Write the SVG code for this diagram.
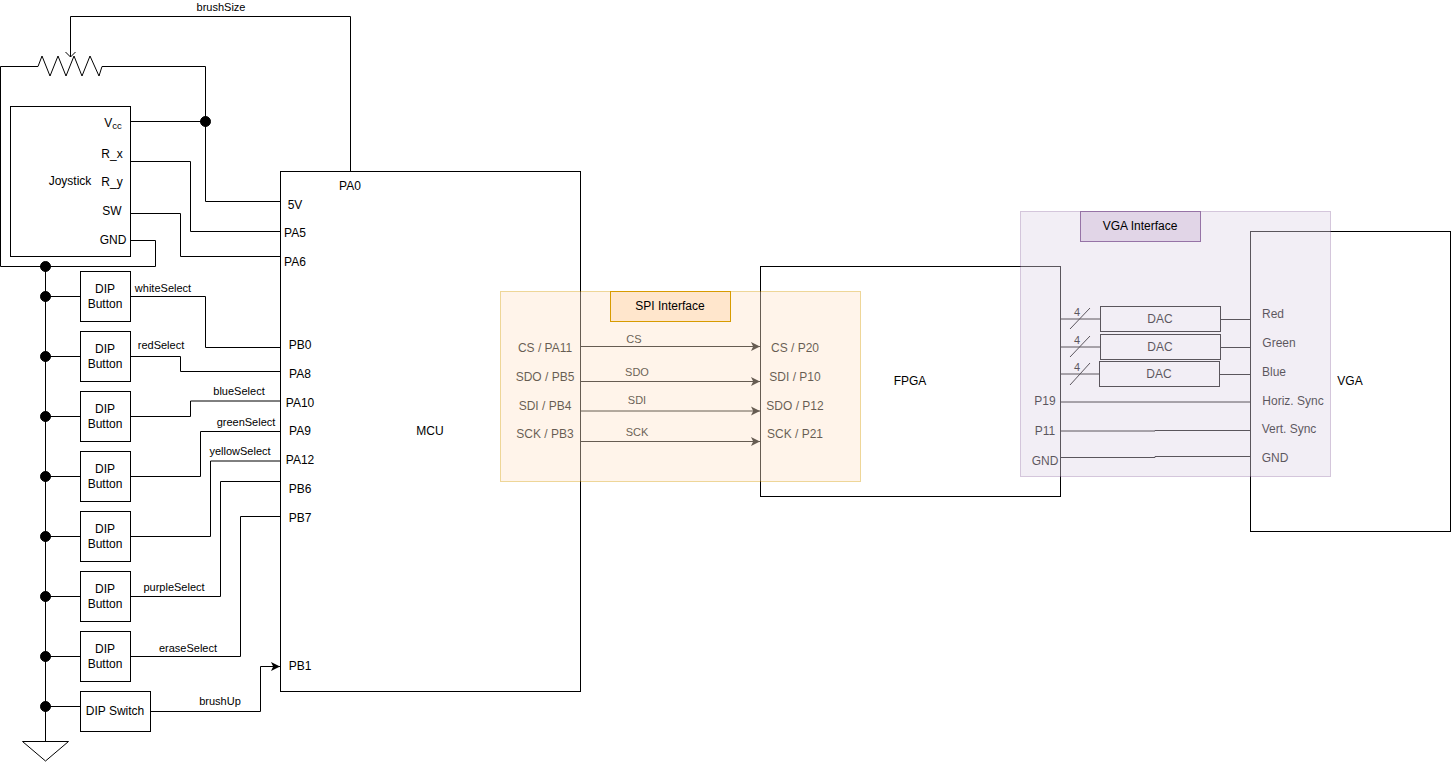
<svg xmlns="http://www.w3.org/2000/svg" width="1451" height="762" viewBox="0 0 1451 762">
<style>
text{font-family:"Liberation Sans",Arial,sans-serif;font-size:12px;fill:#000;text-anchor:middle}
.s{font-size:11px}
.n{fill:#fff;stroke:#000;stroke-width:1}
.w{fill:none;stroke:#000;stroke-width:1}
.d{fill:#000;stroke:#000}
</style>
<defs>
<marker id="arr" viewBox="0 0 10 10" refX="9" refY="5" markerWidth="10" markerHeight="10" orient="auto" markerUnits="userSpaceOnUse"><path d="M0 0.5L9 5L0 9.5L2.2 5Z" fill="#000"/></marker>
<marker id="open" viewBox="0 0 12 12" refX="10" refY="6" markerWidth="12" markerHeight="12" orient="auto" markerUnits="userSpaceOnUse"><path d="M5 1L10 6L5 11" fill="none" stroke="#000"/></marker>
</defs>
<rect width="1451" height="762" fill="#fff"/>
<g id="mcu"><rect class="n" x="280.5" y="171.5" width="300" height="520"/>
<text x="430" y="435">MCU</text><text x="350" y="190">PA0</text><text x="295" y="209">5V</text><text x="295" y="237">PA5</text><text x="295" y="266">PA6</text><text x="300" y="349">PB0</text><text x="300" y="378">PA8</text><text x="300" y="407">PA10</text><text x="300" y="435">PA9</text><text x="300" y="464">PA12</text><text x="300" y="493">PB6</text><text x="300" y="522">PB7</text><text x="300" y="670">PB1</text>
<text x="545" y="352">CS / PA11</text><text x="545" y="381">SDO / PB5</text><text x="545" y="410">SDI / PB4</text><text x="545" y="438">SCK / PB3</text></g>
<g id="fpga"><rect class="n" x="760.5" y="266.5" width="300" height="230"/>
<text x="910" y="385">FPGA</text><text x="795" y="352">CS / P20</text><text x="795" y="381">SDI / P10</text><text x="795" y="410">SDO / P12</text><text x="795" y="438">SCK / P21</text>
<text x="1045" y="405">P19</text><text x="1045" y="435">P11</text><text x="1045" y="465">GND</text></g>
<g id="vga"><rect class="n" x="1250.5" y="231.5" width="200" height="300"/>
<text x="1350" y="385">VGA</text><text x="1273" y="318">Red</text><text x="1279" y="347">Green</text><text x="1274" y="376">Blue</text><text x="1293" y="405">Horiz. Sync</text><text x="1289" y="433">Vert. Sync</text><text x="1275" y="462">GND</text></g>
<g id="joystick"><rect class="n" x="10.5" y="106.5" width="120" height="150"/>
<text x="70" y="185">Joystick</text><text x="113" y="127">V<tspan font-size="9.5" dy="2">cc</tspan></text><text x="112" y="158">R_x</text><text x="112" y="186">R_y</text><text x="112" y="215">SW</text><text x="113" y="244">GND</text></g>
<g id="btn1"><rect class="n" x="80.5" y="271.5" width="50" height="50"/><text x="105" y="293">DIP</text><text x="105" y="308">Button</text></g>
<g id="btn2"><rect class="n" x="80.5" y="331.5" width="50" height="50"/><text x="105" y="353">DIP</text><text x="105" y="368">Button</text></g>
<g id="btn3"><rect class="n" x="80.5" y="391.5" width="50" height="50"/><text x="105" y="413">DIP</text><text x="105" y="428">Button</text></g>
<g id="btn4"><rect class="n" x="80.5" y="451.5" width="50" height="50"/><text x="105" y="473">DIP</text><text x="105" y="488">Button</text></g>
<g id="btn5"><rect class="n" x="80.5" y="511.5" width="50" height="50"/><text x="105" y="533">DIP</text><text x="105" y="548">Button</text></g>
<g id="btn6"><rect class="n" x="80.5" y="571.5" width="50" height="50"/><text x="105" y="593">DIP</text><text x="105" y="608">Button</text></g>
<g id="btn7"><rect class="n" x="80.5" y="631.5" width="50" height="50"/><text x="105" y="653">DIP</text><text x="105" y="668">Button</text></g>
<g id="switch"><rect class="n" x="80.5" y="691.5" width="70" height="40"/><text x="115" y="715">DIP Switch</text></g>
<g id="ground"><path class="w" d="M22.5 741.5H68.5L45.5 761Z"/></g>
<g id="dac1"><rect class="n" x="1100.5" y="306.5" width="120" height="25"/><text x="1160" y="323">DAC</text></g>
<g id="dac2"><rect class="n" x="1100.5" y="334.5" width="120" height="25"/><text x="1160" y="351">DAC</text></g>
<g id="dac3"><rect class="n" x="1099.5" y="361.5" width="120" height="25"/><text x="1159" y="378">DAC</text></g>
<g id="connectors">
<path class="w" marker-end="url(#open)" d="M350.5 171V16.5H70.5V57"/>
<path class="w" d="M0.5 66.5V266.5H155.5V240.5H130.5"/>
<path class="w" d="M0.5 66.5H38L42 56L50 76L58 56L66 76L74 56L82 76L90 56L99 76L102 66.5H205.5V201.5H280.5"/>
<path class="w" d="M130.5 121.5H205.5"/>
<path class="w" d="M130.5 161.5H190.5V231.5H280.5"/>
<path class="w" d="M130.5 213.5H180.5V256.5H280.5"/>
<path class="w" d="M45.5 266.5V741.5"/>
<path class="w" d="M45.5 296.5H80.5M45.5 356.5H80.5M45.5 416.5H80.5M45.5 476.5H80.5M45.5 536.5H80.5M45.5 596.5H80.5M45.5 656.5H80.5M45.5 706.5H80.5"/>
<path class="w" d="M130.5 296.5H205.5V347.5H280.5"/>
<path class="w" d="M130.5 356.5H180.5V371.5H281"/>
<path class="w" d="M130.5 416.5H190.5V401H280.5"/>
<path class="w" d="M130.5 476.5H200.5V431.5H280.5"/>
<path class="w" d="M130.5 536.5H210.5V461H280.5"/>
<path class="w" d="M130.5 596.5H220.5V481.5H280.5"/>
<path class="w" d="M130.5 656.5H240.5V516.5H280.5"/>
<path class="w" marker-end="url(#arr)" d="M150.5 711.5H260.5V666.5H280"/>
<path class="w" marker-end="url(#arr)" d="M580.5 346.5H760"/>
<path class="w" marker-end="url(#arr)" d="M580.5 381.5H760"/>
<path class="w" marker-end="url(#arr)" d="M580.5 411H760"/>
<path class="w" marker-end="url(#arr)" d="M580.5 441.5H760"/>
<path class="w" d="M1061 319H1100.5M1061 347H1100.5M1061 374H1099.5"/>
<path class="w" d="M1070 329L1090 308M1070 357L1090 336M1070 385L1090 363"/>
<path class="w" d="M1220.5 319.5H1250.5M1220.5 347.5H1250.5M1219.5 374.5H1250.5"/>
<path class="w" d="M1060.5 402H1250.5M1060.5 431H1155V430.5H1250.5M1060.5 457.5H1155V456.5H1250.5"/>
</g>
<g id="dots"><circle class="d" cx="205.5" cy="121.5" r="5"/><circle class="d" cx="45.5" cy="266.5" r="5"/><circle class="d" cx="45.5" cy="296.5" r="5"/><circle class="d" cx="45.5" cy="356.5" r="5"/><circle class="d" cx="45.5" cy="416.5" r="5"/><circle class="d" cx="45.5" cy="476.5" r="5"/><circle class="d" cx="45.5" cy="536.5" r="5"/><circle class="d" cx="45.5" cy="596.5" r="5"/><circle class="d" cx="45.5" cy="656.5" r="5"/><circle class="d" cx="45.5" cy="706.5" r="5"/></g>
<g id="wire-labels">
<text class="s" x="221" y="11">brushSize</text><text class="s" x="163" y="292">whiteSelect</text><text class="s" x="161" y="349">redSelect</text><text class="s" x="239" y="395">blueSelect</text><text class="s" x="246" y="426">greenSelect</text><text class="s" x="240" y="455">yellowSelect</text><text class="s" x="174" y="591">purpleSelect</text><text class="s" x="188" y="652">eraseSelect</text><text class="s" x="220" y="705">brushUp</text>
<text class="s" x="634" y="343">CS</text><text class="s" x="637" y="376">SDO</text><text class="s" x="637" y="404">SDI</text><text class="s" x="637" y="436">SCK</text>
<text class="s" x="1077" y="316">4</text><text class="s" x="1077" y="344">4</text><text class="s" x="1077" y="371">4</text>
</g>
<g id="spi-interface"><rect x="500.5" y="291.5" width="360" height="190" fill="#ffe6cc" stroke="#d79b00" opacity="0.4"/>
<rect x="610.5" y="291.5" width="120" height="30" fill="#ffe6cc" stroke="#d79b00"/><text x="670" y="310">SPI Interface</text></g>
<g id="vga-interface"><rect x="1020.5" y="211.5" width="310" height="265" fill="#e1d5e7" stroke="#9673a6" opacity="0.4"/>
<rect x="1080.5" y="211.5" width="120" height="30" fill="#e1d5e7" stroke="#9673a6"/><text x="1140" y="230">VGA Interface</text></g>
</svg>
